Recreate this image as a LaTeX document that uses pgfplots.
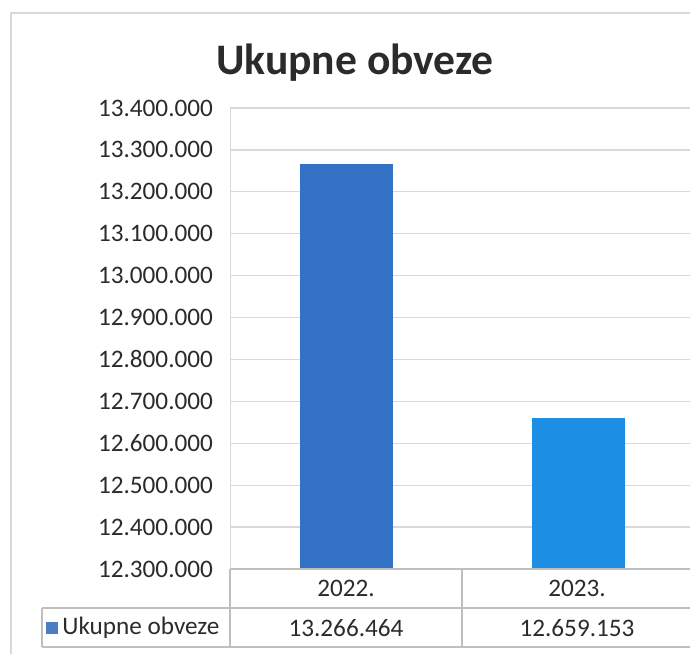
\documentclass[border=0pt]{standalone}
\usepackage{pgfplots}
\pgfplotsset{compat=1.18}
\usepackage{fontspec}
\setmainfont{Carlito}

\definecolor{bar22}{HTML}{3371C4}
\definecolor{bar23}{HTML}{1C8FE5}
\definecolor{keyblue}{HTML}{4A7DC6}
\definecolor{gridc}{HTML}{D9D9D9}
\definecolor{tablec}{HTML}{BFBFBF}
\definecolor{txt}{HTML}{2B2B2B}

\begin{document}
% 1 unit = 0.5pt = one pixel of the reference
\begin{tikzpicture}[x=0.5pt,y=0.5pt]
  \useasboundingbox (0,0) rectangle (690,653);
  \clip (0,0) rectangle (690,653);

  % chart frame
  \draw[color=gridc, line width=1.2pt] (11,-5) -- (11,640) -- (700,640);

  % title
  \node[anchor=base, text=txt, font=\fontsize{21.8}{26}\selectfont\bfseries] at (355,578) {Ukupne obveze};

  \begin{axis}[
      at={(115pt,42pt)}, anchor=south west,
      scale only axis,
      width=232pt, height=230.5pt,
      xmin=0, xmax=2,
      ymin=12300000, ymax=13400000,
      xtick=\empty,
      ytick={12300000,12400000,12500000,12600000,12700000,12800000,12900000,13000000,13100000,13200000,13300000,13400000},
      yticklabels={12.300.000,12.400.000,12.500.000,12.600.000,12.700.000,12.800.000,12.900.000,13.000.000,13.100.000,13.200.000,13.300.000,13.400.000},
      scaled y ticks=false,
      yticklabel style={font=\fontsize{12.6}{15}\selectfont, text=txt, xshift=-5pt},
      major tick length=0pt,
      ymajorgrids,
      grid style={gridc, line width=0.6pt},
      axis line style={draw=none},
      ybar, bar width=46.5pt, bar shift=0pt,
    ]
    \addplot[fill=bar22, draw=none] coordinates {(0.5,13266464)};
    \addplot[fill=bar23, draw=none] coordinates {(1.5,12659153)};
    \draw[gridc, line width=0.8pt] (rel axis cs:0,0) -- (rel axis cs:0,1);
  \end{axis}

  % data table
  \begin{scope}[tablec, line width=0.8pt]
    \draw (230,84) -- (700,84);
    \draw (42,45) -- (700,45);
    \draw (42,6) -- (700,6);
    \draw (42,6) -- (42,45);
    \draw (230,6) -- (230,84);
    \draw (462,6) -- (462,84);
    \draw (694,6) -- (694,84);
  \end{scope}

  \begin{scope}[font=\fontsize{12.6}{15}\selectfont, text=txt]
    \node at (346,65) {2022.};
    \node at (577,65) {2023.};
    \node at (346,25) {13.266.464};
    \node at (577,25) {12.659.153};
    \fill[keyblue] (46,19) rectangle (58,31);
    \node[anchor=west, inner sep=0pt] at (62,25) {Ukupne obveze};
  \end{scope}
\end{tikzpicture}
\end{document}
